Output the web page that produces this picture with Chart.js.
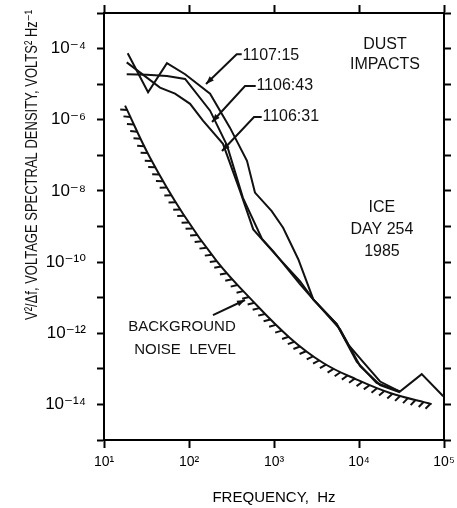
<!DOCTYPE html>
<html>
<head>
<meta charset="utf-8">
<script src="https://cdn.jsdelivr.net/npm/chart.js@4/dist/chart.umd.min.js"></script>
<style>
	html, body { margin: 0; padding: 0; background: #fff; }
</style>
</head>
<body>
<canvas id="psd-chart" width="457" height="508"></canvas>
<script>
// spectra (frequency in Hz, V^2/Hz)
var freq1107 = [19, 33, 55, 90, 177, 303, 481, 597, 940, 1280, 1930, 2900, 5470, 7480, 11100, 17700, 30300, 54700, 98000];
var psd1107 = [7.4e-5, 5.9e-6, 3.9e-5, 1.9e-5, 5.4e-6, 6e-7, 7e-8, 9e-9, 2.7e-9, 9.2e-10, 1.2e-10, 8.9e-12, 1.8e-12, 4.8e-13, 1.6e-13, 4.4e-14, 2.3e-14, 7.1e-14, 1.7e-14];

var freq1106a = [18.5, 45.6, 68.5, 103, 146, 251, 398, 570, 1077, 2020, 2880, 5470, 9400, 16100, 30300];
var psd1106a = [4.1e-5, 8e-6, 5.4e-6, 2.8e-6, 9.4e-7, 2.1e-7, 1e-8, 8.3e-10, 1.5e-10, 2.9e-11, 9.1e-12, 1.8e-12, 1.6e-13, 4e-14, 2.3e-14];

var freq1106b = [18.5, 32, 55, 90, 177, 280, 431, 723, 982, 2020, 2880, 5970, 10300, 17700, 30300];
var psd1106b = [1.9e-5, 1.85e-5, 1.7e-5, 1.4e-5, 1.8e-6, 1.9e-7, 6.4e-9, 4.5e-10, 2.0e-10, 2.4e-11, 9.1e-12, 1.3e-12, 1.2e-13, 3.5e-14, 2.2e-14];

var noiseFreq = [17.7, 34.7, 85.7, 212, 522, 1540, 3800, 9400, 23200, 71600];
var noisePsd = [2.5e-6, 8.7e-8, 2.2e-9, 1.07e-10, 9.7e-12, 7.4e-13, 1.46e-13, 5e-14, 2.1e-14, 1.02e-14];

var xTicks = [1e1, 1e2, 1e3, 1e4, 1e5];
var yTickExp = [-15, -14, -13, -12, -11, -10, -9, -8, -7, -6, -5, -4, -3];
var yLabelExp = [-4, -6, -8, -10, -12, -14];

var FONT = "'Liberation Sans', 'DejaVu Sans', sans-serif";
var INK = "#111";

var sup = { "-": "\u207B", "0": "\u2070", "1": "\u00B9", "2": "\u00B2", "3": "\u00B3", "4": "\u2074", "5": "\u2075", "6": "\u2076", "7": "\u2077", "8": "\u2078", "9": "\u2079" };
function powLabel(e) {
	return "10" + String(e).split("").map(function(c) { return sup[c]; }).join("");
}

function pairs(xs, ys) {
	return xs.map(function(x, i) { return { x: x, y: ys[i] }; });
}

function line(label, xs, ys, tension) {
	return {
		label: label,
		data: pairs(xs, ys),
		borderColor: INK,
		backgroundColor: INK,
		borderWidth: 2,
		fill: false,
		tension: tension,
		pointRadius: 0
	};
}

// hatching, leader lines and labels
var annotate = {
	id: "annotate",
	afterDatasetsDraw: function(chart) {
		var ctx = chart.ctx;
		var xs = chart.scales.x, ys = chart.scales.y;
		function P(lf, ly) {
			return [xs.getPixelForValue(Math.pow(10, lf)), ys.getPixelForValue(Math.pow(10, ly))];
		}

		ctx.save();
		ctx.strokeStyle = INK;
		ctx.fillStyle = INK;
		ctx.lineWidth = 2;
		ctx.lineCap = "butt";

		// hatch marks under the noise curve
		var pts = chart.getDatasetMeta(3).data;
		var samples = [];
		for (var i = 0; i < pts.length - 1; i++) {
			var a = pts[i], b = pts[i + 1];
			for (var k = 0; k < 40; k++) {
				var t = k / 40, u = 1 - t;
				samples.push([
					u*u*u*a.x + 3*u*u*t*a.cp2x + 3*u*t*t*b.cp1x + t*t*t*b.x,
					u*u*u*a.y + 3*u*u*t*a.cp2y + 3*u*t*t*b.cp1y + t*t*t*b.y
				]);
			}
		}
		samples.push([pts[pts.length - 1].x, pts[pts.length - 1].y]);
		var step = 8, acc = step / 2, ang = 30 * Math.PI / 180, len = 7;
		ctx.beginPath();
		for (var j = 1; j < samples.length; j++) {
			var dx = samples[j][0] - samples[j-1][0], dy = samples[j][1] - samples[j-1][1];
			var d = Math.sqrt(dx*dx + dy*dy);
			if (d === 0) continue;
			acc += d;
			if (acc >= step) {
				acc -= step;
				var tx = dx / d, ty = dy / d;
				var nx = -ty, ny = tx;
				var hx = Math.cos(ang) * nx - Math.sin(ang) * tx;
				var hy = Math.cos(ang) * ny - Math.sin(ang) * ty;
				ctx.moveTo(samples[j][0], samples[j][1]);
				ctx.lineTo(samples[j][0] + hx * len, samples[j][1] + hy * len);
			}
		}
		ctx.stroke();

		// leader lines with small arrow heads
		function leader(path) {
			var p = path.map(function(q) { return P(q[0], q[1]); });
			ctx.beginPath();
			ctx.moveTo(p[0][0], p[0][1]);
			for (var m = 1; m < p.length; m++) ctx.lineTo(p[m][0], p[m][1]);
			ctx.stroke();
			var e = p[p.length - 1], s = p[p.length - 2];
			var ex = e[0] - s[0], ey = e[1] - s[1], el = Math.sqrt(ex*ex + ey*ey);
			ex /= el; ey /= el;
			ctx.beginPath();
			ctx.moveTo(e[0], e[1]);
			ctx.lineTo(e[0] - ex*8 - ey*3, e[1] - ey*8 + ex*3);
			ctx.lineTo(e[0] - ex*8 + ey*3, e[1] - ey*8 - ex*3);
			ctx.closePath();
			ctx.fill();
		}
		leader([[2.62, -4.16], [2.561, -4.161], [2.2, -4.995]]);
		leader([[2.785, -5.052], [2.659, -5.052], [2.271, -6.063]]);
		leader([[2.855, -5.923], [2.765, -5.923], [2.388, -6.879]]);
		leader([[2.282, -11.488], [2.659, -11.066]]);

		// text
		ctx.textBaseline = "middle";
		function label(text, lf, ly, align, size) {
			var p = P(lf, ly);
			ctx.textAlign = align;
			ctx.font = size + "px " + FONT;
			ctx.fillText(text, p[0], p[1]);
		}
		label("1107:15", 2.63, -4.209, "left", 16);
		label("1106:43", 2.793, -5.052, "left", 16);
		label("1106:31", 2.864, -5.923, "left", 16);
		label("DUST", 4.306, -3.899, "center", 16);
		label("IMPACTS", 4.306, -4.461, "center", 16);
		label("ICE", 4.27, -8.48, "center", 16);
		label("DAY 254", 4.27, -9.099, "center", 16);
		label("1985", 4.27, -9.717, "center", 16);
		label("BACKGROUND", 1.918, -11.825, "center", 15);
		label("NOISE  LEVEL", 1.953, -12.47, "center", 15);

		// y axis title, placed like the original (above centre)
		ctx.translate(37, 165);
		ctx.rotate(-Math.PI / 2);
		ctx.textAlign = "center";
		ctx.textBaseline = "alphabetic";
		ctx.font = "17px " + FONT;
		ctx.fillText("V\u00B2/\u0394f, VOLTAGE SPECTRAL DENSITY, VOLTS\u00B2 Hz\u207B\u00B9", 0, 0, 310);
		ctx.restore();
	}
};

function axisBase(pos, size) {
	return {
		type: "logarithmic",
		position: pos,
		afterFit: function(s) {
			if (s.isHorizontal()) s.height = size; else s.width = size;
			s.paddingTop = 0; s.paddingBottom = 0; s.paddingLeft = 0; s.paddingRight = 0;
		},
		grid: { drawOnChartArea: false, drawTicks: true, tickLength: 8, tickWidth: 2, tickColor: "#000" },
		border: { display: true, color: "#000", width: 2 }
	};
}

var xAxis = axisBase("bottom", 68);
xAxis.min = 10; xAxis.max = 1e5;
xAxis.afterBuildTicks = function(s) { s.ticks = xTicks.map(function(v) { return { value: v }; }); };
xAxis.ticks = {
	color: "#000", font: { size: 14, family: FONT }, padding: 6, maxRotation: 0, autoSkip: false,
	callback: function(v) { return powLabel(Math.round(Math.log10(v))); }
};
xAxis.title = { display: true, text: "FREQUENCY,  Hz", color: "#000", font: { size: 15, family: FONT }, padding: { top: 0, bottom: 1 } };

var x2Axis = axisBase("top", 13);
x2Axis.min = 10; x2Axis.max = 1e5;
x2Axis.afterBuildTicks = xAxis.afterBuildTicks;
x2Axis.ticks = { display: false };

var yAxis = axisBase("left", 104);
yAxis.min = 1e-15; yAxis.max = 1e-3;
yAxis.grid.tickLength = 7;
yAxis.afterBuildTicks = function(s) { s.ticks = yTickExp.map(function(e) { return { value: Math.pow(10, e) }; }); };
yAxis.ticks = {
	color: "#000", font: { size: 17, family: FONT }, padding: 11, autoSkip: false,
	callback: function(v) {
		var e = Math.round(Math.log10(v));
		return yLabelExp.indexOf(e) >= 0 ? powLabel(e) : "";
	}
};

var y2Axis = axisBase("right", 13);
y2Axis.min = 1e-15; y2Axis.max = 1e-3;
y2Axis.grid.tickLength = 7;
y2Axis.afterBuildTicks = yAxis.afterBuildTicks;
y2Axis.ticks = { display: false };

var chart = new Chart(document.getElementById("psd-chart"), {
	type: "line",
	data: {
		datasets: [
			line("1107:15", freq1107, psd1107, 0),
			line("1106:43", freq1106a, psd1106a, 0),
			line("1106:31", freq1106b, psd1106b, 0),
			line("Background noise level", noiseFreq, noisePsd, 0.4)
		]
	},
	options: {
		responsive: false,
		animation: false,
		layout: { padding: 0 },
		plugins: { legend: { display: false }, tooltip: { enabled: false } },
		scales: { x: xAxis, x2: x2Axis, y: yAxis, y2: y2Axis }
	},
	plugins: [annotate]
});
</script>
</body>
</html>
